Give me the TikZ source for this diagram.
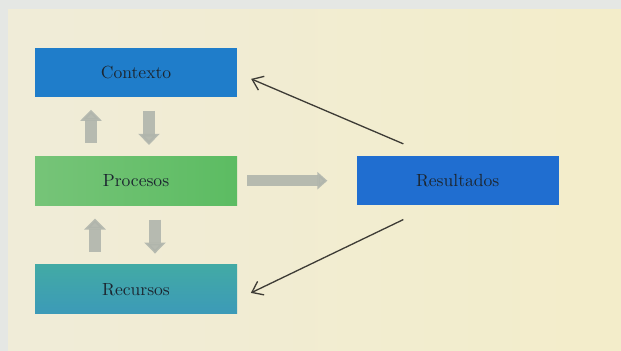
\documentclass[tikz,border=0pt]{standalone}
\usepackage{xcolor}
\usetikzlibrary{positioning, arrows.meta}

\definecolor{hoja}{RGB}{229,231,228}
\definecolor{papelA}{RGB}{240,236,216}
\definecolor{papelB}{RGB}{243,237,202}
\definecolor{azulCtx}{RGB}{31,125,202}
\definecolor{verdeProc}{RGB}{92,188,98}
\definecolor{verdeProcB}{RGB}{118,196,120}
\definecolor{tealRec}{RGB}{66,170,165}
\definecolor{tealRecB}{RGB}{60,154,184}
\definecolor{azulRes}{RGB}{32,110,208}
\definecolor{tinta}{RGB}{28,38,48}
\definecolor{flechaGris}{RGB}{176,181,172}
\definecolor{lineaOsc}{RGB}{62,60,54}

\tikzset{
    caja/.style={minimum width=4.04cm, minimum height=0.98cm, inner sep=0pt,
        text=tinta, font=\normalsize},
    gruesa/.style={line width=0.23cm, flechaGris, opacity=0.9,
        -{Triangle[length=0.22cm,width=0.42cm]}},
    fina/.style={line width=0.75pt, lineaOsc,
        -{Straight Barb[length=0.2cm,width=0.3cm]}}
}

\begin{document}
\begin{tikzpicture}
        % Fondo de la pagina
        \useasboundingbox (0,0) rectangle (12.42,-7.02);
        \fill[hoja] (0,0) rectangle (12.42,-7.02);
        \shade[left color=papelA, right color=papelB] (0.16,-0.2) rectangle (12.42,-7.02);

        % Cajas
        \node[caja, fill=azulCtx] (contexto) at (2.72,-1.46) {Contexto};
        \node[caja, left color=verdeProcB, right color=verdeProc, below=1.16cm of contexto] (procesos) {Procesos};
        \node[caja, top color=tealRec, bottom color=tealRecB, below=1.18cm of procesos] (recursos) {Recursos};
        \node[caja, fill=azulRes, right=2.38cm of procesos] (resultados) {Resultados};

        % Flechas grises entre cajas
        \draw[gruesa, shorten <=0.26cm, shorten >=0.24cm] ([xshift=-0.9cm]procesos.north) -- ([xshift=-0.9cm]contexto.south);
        \draw[gruesa, shorten <=0.26cm, shorten >=0.22cm] ([xshift=0.26cm]contexto.south) -- ([xshift=0.26cm]procesos.north);
        \draw[gruesa, shorten <=0.26cm, shorten >=0.26cm] ([xshift=-0.82cm]recursos.north) -- ([xshift=-0.82cm]procesos.south);
        \draw[gruesa, shorten <=0.28cm, shorten >=0.22cm] ([xshift=0.38cm]procesos.south) -- ([xshift=0.38cm]recursos.north);
        \draw[gruesa, line width=0.22cm, -{Triangle[length=0.2cm,width=0.34cm]},
            shorten <=0.2cm, shorten >=0.58cm] (procesos.east) -- (resultados.west);

        % Flechas finas desde Resultados
        \coordinate (r1) at ([xshift=0.94cm, yshift=0.24cm]resultados.north west);
        \coordinate (r2) at ([xshift=0.94cm, yshift=-0.28cm]resultados.south west);
        \draw[fina, shorten >=0.3cm] (r1) -- (contexto.east);
        \draw[fina, shorten >=0.3cm] (r2) -- ([yshift=-0.2cm]recursos.east);
    \end{tikzpicture}
\end{document}
